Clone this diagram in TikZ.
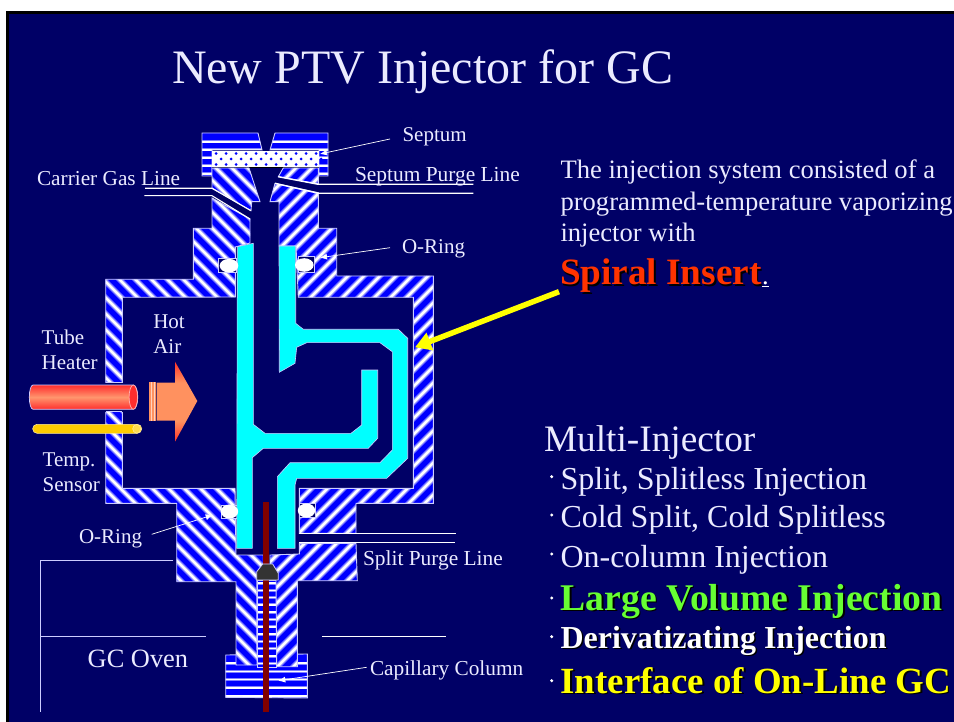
\documentclass[tikz,border=0pt]{standalone}
\usepackage{fontspec}
\setmainfont{Liberation Serif}
\usetikzlibrary{arrows.meta}
\definecolor{navy0}{RGB}{0,0,102}
\definecolor{hblue}{RGB}{0,0,255}
\definecolor{hmid}{RGB}{128,128,255}
\definecolor{outl}{RGB}{204,204,255}
\definecolor{cyan0}{RGB}{0,255,255}
\definecolor{col0}{RGB}{128,0,0}
\definecolor{redT}{RGB}{255,51,0}
\definecolor{grnT}{RGB}{102,255,51}
\definecolor{yelT}{RGB}{255,255,0}
\definecolor{sens}{RGB}{255,204,0}
\definecolor{heatE}{RGB}{255,45,45}
\definecolor{heatM}{RGB}{255,150,110}
\definecolor{airE}{RGB}{255,50,40}
\definecolor{airM}{RGB}{255,145,95}
\pgfdeclareverticalshading{airsh}{100bp}{color(0bp)=(airE); color(25bp)=(airE); color(38bp)=(airM); color(62bp)=(airM); color(75bp)=(airE); color(100bp)=(airE)}
\newcommand{\fs}[1]{\fontsize{#1}{#1}\selectfont}
\newcommand{\shad}[2]{\rlap{\kern1.6pt\raisebox{-1.6pt}{\color{black}#2}}{\color{#1}#2}}
% hatched fills: \hatchB = "\" stripes, \hatchF = "/" stripes, \hatchH = horizontal stripes
\newcommand{\stripe}[1]{\draw[hmid,line width=5.4pt] #1; \draw[white,line width=2.8pt] #1;}
\newcommand{\hatchB}[1]{\fill[hblue] #1; \begin{scope}\clip #1;
  \foreach \a in {-800,-784,...,1000}{\stripe{(\a,0) -- ++(800,800)}}\end{scope}\draw[outl,line width=.9pt] #1;}
\newcommand{\hatchF}[1]{\fill[hblue] #1; \begin{scope}\clip #1;
  \foreach \a in {0,16,...,1800}{\stripe{(\a,0) -- ++(-800,800)}}\end{scope}\draw[outl,line width=.9pt] #1;}
\newcommand{\hatchH}[2]{\fill[hblue] #2; \begin{scope}\clip #2;
  \foreach \a in {#1}{\draw[hmid,line width=3pt] (0,\a) -- (954,\a); \draw[white,line width=1.5pt] (0,\a) -- (954,\a);}\end{scope}\draw[outl,line width=.9pt] #2;}
\tikzset{
  lbl/.style={anchor=base west,inner sep=0pt,outer sep=0pt,text=white!92!blue},
  wline/.style={white,line width=1.1pt},
  leader/.style={white,line width=.7pt,-{Latex[length=7pt,width=6pt]}},
  oven/.style={outl,line width=.9pt},
  insert/.style={fill=cyan0,draw=outl,line width=.6pt},
  gapbox/.style={fill=navy0,draw=outl,line width=.7pt},
  ring/.style={fill=white},
  bul/.style={circle,fill=white,inner sep=0pt,minimum size=3.4pt}
}
\begin{document}
\begin{tikzpicture}[x=1pt,y=-1pt]
\useasboundingbox (0,0) rectangle (954,722);
\fill[white] (0,0) rectangle (954,722);
\fill[black] (6,11) rectangle (954,722);
\fill[navy0] (9,14) rectangle (954,722);
% flange at the foot
\hatchH{663,671.3,...,700}{(225.7,655) -- (307.3,654) -- (307.3,698) -- (225.7,697.3) -- cycle}
% centre column of the foot
\hatchH{583,590.3,...,665}{(257,580) -- (276,580) -- (276,667) -- (257,667) -- cycle}
% cap
\hatchH{142,150,...,176}{(202,133) -- (258,133) -- (262,150) -- (212,150) -- (212,176) -- (202,176) -- cycle}
\hatchH{142,150,...,176}{(275,133) -- (328,133) -- (328,176) -- (319,176) -- (319,150) -- (270,150) -- cycle}
% septum
\fill[white] (212,151) rectangle (319,167);
\foreach \r/\o in {153.5/0,159/5,164.5/0}{\foreach \i in {0,...,10}{\fill[hblue] ({216+\o+\i*10},\r) circle (1.5);}}
\draw[black,line width=1pt] (212,167.3) -- (319,167.3);
% upper blocks
\hatchB{(212,168) -- (249,168) -- (260,201.7) -- (251.7,201.7) -- (251,210.7) -- (212,188) -- cycle}
\hatchF{(283.3,168) -- (318.3,168) -- (318.3,184) -- (278.3,176.7) -- cycle}
% body left half
\hatchB{(212,198) -- (250,219) -- (250,243) -- (235.3,247) -- (235.3,297) -- (122.3,297.3) -- (122.3,488.3) -- (235,488.3) -- (236,555) -- (263.3,555) -- (263.3,563) -- (256.7,580) -- (257,665) -- (236,665) -- (236,581.7) -- (176.7,581.7) -- (176.7,503.3) -- (105.7,503.3) -- (105.7,279.3) -- (193.3,279.3) -- (193.3,228.3) -- (212,228.3) -- cycle}
% opening for the heater
\fill[navy0] (104,382.7) rectangle (124,411.7);
\draw[outl,line width=.9pt] (105.7,382.7) -- (122.3,382.7) (105.7,411.7) -- (122.3,411.7);
% body right half
\hatchF{(275,183.3) -- (318.3,192.7) -- (318.3,228.3) -- (336.7,228.3) -- (336.7,276) -- (433.3,276) -- (433.3,503.3) -- (356,503.3) -- (356,533.3) -- (299.3,533.3) -- (299.3,488.3) -- (413.3,488.3) -- (413.3,297.3) -- (298.3,297.3) -- (296,246) -- (279,246) -- (279,201.7) -- (270,201.7) -- cycle}
% lower right block
\hatchF{(299.3,543.3) -- (356,543.3) -- (357.3,580.7) -- (297.3,580.7) -- (297.3,666.7) -- (276.7,666.7) -- (276,580) -- (270,563) -- (270,555) -- (299.3,554) -- cycle}
% gas lines
\coordinate (cgA) at (145,188.3); \coordinate (cgB) at (212,188.3);
\coordinate (cgC) at (144.3,195.7); \coordinate (cgD) at (212,195.7);
\draw[wline] (cgA) -- (cgB) -- (251,210.7);
\draw[wline] (cgC) -- (cgD) -- (250,219);
\coordinate (spA) at (278.3,176.7); \coordinate (spB) at (318.3,184.3); \coordinate (spC) at (473.3,184.3);
\coordinate (spD) at (275,183.3); \coordinate (spE) at (318.3,193.3); \coordinate (spF) at (473.3,193.3);
\draw[wline,line width=1.4pt] (spA) -- (spB) -- (spC);
\draw[wline,line width=1.4pt] (spD) -- (spE) -- (spF);
\coordinate (slA) at (299.3,533.3); \coordinate (slB) at (455.7,533.3);
\coordinate (slC) at (299.3,542.7); \coordinate (slD) at (455,542.7);
\draw[wline,line width=1.4pt] (slA) -- (slB);
\draw[wline,line width=1.4pt] (slC) -- (slD);
% o-ring seats
\draw[gapbox] (218.3,258.3) rectangle (236.7,272.7);
\draw[gapbox] (298,256.7) rectangle (314.3,272.7);
\draw[gapbox] (221,505) rectangle (237,518);
\draw[gapbox] (299,503.5) rectangle (315,517);
% capillary column
\fill[col0] (263.3,502) rectangle (269.3,711.7);
% insert
\draw[insert] (237.3,246.7) -- (253.3,243.3) -- (253.3,424.3) -- (265,433.3) -- (351,433.3) -- (361.7,425) -- (361.7,370) -- (377.7,370) -- (377.7,438.3) -- (368.3,448.3) -- (263.3,448.3) -- (252.3,457.7) -- (252.3,548.3) -- (236.7,548.3) -- cycle;
\draw[insert] (279,246) -- (295.7,246) -- (295.7,323.3) -- (303.3,329.3) -- (398.3,329.3) -- (407.7,338.3) -- (407.7,458.3) -- (386.7,478.3) -- (296.7,478.3) -- (295,485) -- (295,548.3) -- (277.3,548.3) -- (277.3,476.7) -- (290,462.7) -- (380,462.7) -- (392.3,450) -- (392.3,351.7) -- (380,342.7) -- (306.7,342.7) -- (296.7,347.3) -- (295,363.3) -- (279.3,372.3) -- cycle;
\fill[col0] (263.3,502) rectangle (269.3,564);
% o-rings
\fill[ring] (229,265.7) ellipse (9.3 and 6.8);
\fill[ring] (304.3,265) ellipse (9.3 and 6.8);
\fill[ring] (229.5,511.5) ellipse (8.7 and 7);
\fill[ring] (306.5,510.5) ellipse (8.7 and 7);
% ferrule
\draw[fill=black!80,draw=outl,line width=.8pt] (262.7,564) -- (272.7,564) -- (278.3,573.3) -- (278.3,580) -- (256.7,580) -- (256.7,571.7) -- cycle;
% heater
\shade[top color=heatE,bottom color=heatE,middle color=heatM] (33,385) -- (133.3,385) arc (-90:90:4.5 and 12.15) -- (33,409.3) arc (90:270:3.7 and 12.15) -- cycle;
\draw[outl,line width=.7pt] (33,385) -- (133.3,385) arc (-90:90:4.5 and 12.15) -- (33,409.3) arc (90:270:3.7 and 12.15) -- cycle;
\draw[fill=heatE,draw=white!70!red,line width=.7pt] (133.3,397.15) ellipse (4.2 and 12.15);
% temperature sensor
\draw[fill=sens,draw=white!60!sens,line width=.6pt,rounded corners=4.4pt] (32.7,424.3) rectangle (141.7,433.3);
\draw[fill=sens!70!white,draw=white!60!sens,line width=.6pt] (136.7,428.8) ellipse (4 and 4.4);
% hot air arrow
\shade[shading=airsh] (156.7,382.7) -- (175,382.7) -- (175,361.7) -- (197.3,401) -- (175,441.7) -- (175,420.7) -- (156.7,420.7) -- cycle;
\fill[airM] (149,382.3) rectangle (156,420.7);
\draw[white!60!airM,line width=.8pt] (151,382.3) -- (151,420.7) (154,382.3) -- (154,420.7);
% oven frame
\coordinate (ovT) at (173.3,560); \coordinate (ovC) at (40.7,560); \coordinate (ovB) at (40.7,711.7);
\coordinate (ovM) at (40.7,636.3); \coordinate (ovN) at (205.7,636.3);
\coordinate (ovR) at (322.3,636); \coordinate (ovS) at (446,636);
\draw[oven] (ovT) -- (ovC) -- (ovB);
\draw[oven] (ovM) -- (ovN);
\draw[wline,line width=.8pt] (ovR) -- (ovS);
% yellow arrow
\coordinate (yA) at (559,291.7); \coordinate (yB) at (415,347.3);
\draw[yelT,line width=5.5pt,-{Triangle[length=16pt,width=18pt]}] (yA) -- (yB);
% labels
\node[lbl,font=\fs{48}] (title) at (172,84) {New PTV Injector for GC};
\node[lbl,font=\fs{21}] (septum) at (402.5,141.7) {Septum};
\node[lbl,font=\fs{21.3}] (carrier) at (37,186) {Carrier Gas Line};
\node[lbl,font=\fs{21.4}] (purge) at (355,182) {Septum Purge Line};
\node[lbl,font=\fs{21}] (oringA) at (402,253.3) {O-Ring};
\node[lbl,font=\fs{21}] (tube) at (41.7,344.3) {Tube};
\node[lbl,font=\fs{21}] (heater) at (41.7,369.3) {Heater};
\node[lbl,font=\fs{21}] (hot) at (153.3,328.7) {Hot};
\node[lbl,font=\fs{21}] (air) at (153.3,353.7) {Air};
\node[lbl,font=\fs{21}] (temp) at (42.7,466) {Temp.};
\node[lbl,font=\fs{21}] (sensor) at (42.7,491) {Sensor};
\node[lbl,font=\fs{21}] (oringB) at (79,543.3) {O-Ring};
\node[lbl,font=\fs{21.4}] (split) at (363,565) {Split Purge Line};
\node[lbl,font=\fs{21.3}] (capil) at (370,675) {Capillary Column};
\node[lbl,font=\fs{26.4}] (oven) at (87.7,667.7) {GC Oven};
% leaders
\coordinate (lS) at (390,139); \coordinate (tS) at (320,154);
\coordinate (lO) at (390,247.7); \coordinate (tO) at (320,257.7);
\coordinate (lB) at (151.7,534.3); \coordinate (tB) at (212.7,515);
\coordinate (lC) at (366.7,667.3); \coordinate (tC) at (278.3,680.7);
\draw[leader] (lS) -- (tS);
\draw[leader] (lO) -- (tO);
\draw[leader] (lB) -- (tB);
\draw[leader] (lC) -- (tC);
% right text
\node[lbl,font=\fs{26.6}] (p1) at (560.5,178.5) {The injection system consisted of a};
\node[lbl,font=\fs{26.6}] (p2) at (560.5,211) {programmed-temperature vaporizing};
\node[lbl,font=\fs{26.6}] (p3) at (560.5,242) {injector with};
\node[lbl,font=\fs{37.2}\bfseries] (spiral) at (560,284.5) {\shad{redT}{Spiral Insert}};
\node[lbl,font=\fs{26.6},text=white] (dot) at (762,284.5) {\underline{.}};
\node[lbl,font=\fs{37.3}] (multi) at (544,451) {Multi-Injector};
\node[lbl,font=\fs{32}] (b1) at (560.5,489) {Split, Splitless Injection};
\node[lbl,font=\fs{32}] (b2) at (560.5,527) {Cold Split, Cold Splitless};
\node[lbl,font=\fs{32}] (b3) at (560.5,567) {On-column Injection};
\node[lbl,font=\fs{37.7}\bfseries] (b4) at (560.5,610.3) {\shad{grnT}{Large Volume Injection}};
\node[lbl,font=\fs{32}\bfseries] (b5) at (560.5,648) {\shad{white}{Derivatizating Injection}};
\node[lbl,font=\fs{36.9}\bfseries] (b6) at (560.5,693.3) {\shad{yelT}{Interface of On-Line GC}};
\foreach \y/\n in {476.7/a,515/b,554/c,598/d,636.7/e,680.7/f}{\node[bul] (bul\n) at (551.7,\y) {};}
\end{tikzpicture}
\end{document}
